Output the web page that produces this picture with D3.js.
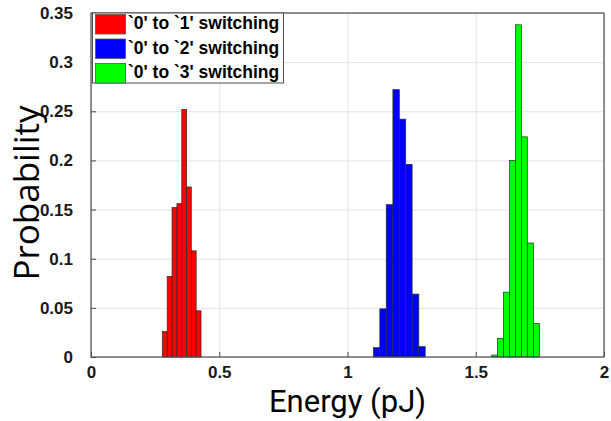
<!DOCTYPE html>
<html>
<head>
<meta charset="utf-8">
<script src="https://cdn.jsdelivr.net/npm/d3@7"></script>
<style>
  html, body { margin: 0; padding: 0; background: #fff; }
  svg { display: block; }
</style>
</head>
<body>
<svg id="chart" width="611" height="421"></svg>
<script>
// Histogram bin edges (pJ) and per-bin probabilities for each switching transition
const seriesNames = ["`0' to `1' switching", "`0' to `2' switching", "`0' to `3' switching"];
const seriesColors = ["#ff0000", "#0000ff", "#00ff00"];

const edges01 = [0.278, 0.297, 0.316, 0.335, 0.354, 0.373, 0.391, 0.410, 0.429];
const prob01  = [0.026, 0.082, 0.152, 0.156, 0.252, 0.173, 0.108, 0.047];

const edges02 = [1.101, 1.126, 1.151, 1.177, 1.202, 1.227, 1.252, 1.278, 1.303];
const prob02  = [0.0095, 0.049, 0.155, 0.272, 0.242, 0.196, 0.064, 0.0105];

const edges03 = [1.562, 1.585, 1.608, 1.632, 1.655, 1.678, 1.701, 1.725, 1.748];
const prob03  = [0.002, 0.019, 0.066, 0.200, 0.338, 0.224, 0.116, 0.034];

const xTicks = [0, 0.5, 1, 1.5, 2];
const xTickLabels = ["0", "0.5", "1", "1.5", "2"];
const yTicks = [0, 0.05, 0.1, 0.15, 0.2, 0.25, 0.3, 0.35];
const yTickLabels = ["0", "0.05", "0.1", "0.15", "0.2", "0.25", "0.3", "0.35"];

const xLabel = "Energy (pJ)";
const yLabel = "Probability";

const allEdges = [edges01, edges02, edges03];
const allProbs = [prob01, prob02, prob03];

const margin = { left: 91, right: 7, top: 13, bottom: 64 };
const W = 611, H = 421;
const pw = W - margin.left - margin.right;
const ph = H - margin.top - margin.bottom;

const svg = d3.select("#chart");
const g = svg.append("g").attr("transform", `translate(${margin.left},${margin.top})`);

const x = d3.scaleLinear().domain([0, 2]).range([0, pw]);
const y = d3.scaleLinear().domain([0, 0.35]).range([ph, 0]);

// grid
g.append("g")
  .attr("class", "grid-x")
  .call(d3.axisBottom(x).tickValues(xTicks).tickSize(-ph).tickFormat(""))
  .attr("transform", `translate(0,${ph})`)
  .call(s => s.select(".domain").remove())
  .call(s => s.selectAll("line").attr("stroke", "#e3e3e3").attr("stroke-width", 1));

g.append("g")
  .attr("class", "grid-y")
  .call(d3.axisLeft(y).tickValues(yTicks).tickSize(-pw).tickFormat(""))
  .call(s => s.select(".domain").remove())
  .call(s => s.selectAll("line").attr("stroke", "#e3e3e3").attr("stroke-width", 1));

// bars
allEdges.forEach((edges, si) => {
  const bins = allProbs[si].map((p, i) => ({ x0: edges[i], x1: edges[i + 1], p }));
  g.append("g")
    .selectAll("rect")
    .data(bins)
    .join("rect")
    .attr("x", d => x(d.x0))
    .attr("width", d => x(d.x1) - x(d.x0))
    .attr("y", d => y(d.p))
    .attr("height", d => y(0) - y(d.p))
    .attr("fill", seriesColors[si])
    .attr("stroke", "#2a2a2a")
    .attr("stroke-width", 0.7);
});

// axes
const tickFont = "'Liberation Sans', Arial, sans-serif";

const xAxis = g.append("g")
  .attr("transform", `translate(0,${ph})`)
  .call(d3.axisBottom(x).tickValues(xTicks).tickFormat((d, i) => xTickLabels[i]).tickSize(-5).tickPadding(9));
xAxis.select(".domain").remove();
xAxis.selectAll("line").attr("stroke", "#4d4d4d");
xAxis.selectAll("text")
  .attr("fill", "#1a1a1a")
  .style("font-family", tickFont)
  .style("font-weight", "bold")
  .style("font-size", "17px");

const yAxis = g.append("g")
  .call(d3.axisLeft(y).tickValues(yTicks).tickFormat((d, i) => yTickLabels[i]).tickSize(-5).tickPadding(18));
yAxis.select(".domain").remove();
yAxis.selectAll("line").attr("stroke", "#4d4d4d");
yAxis.selectAll("text")
  .attr("fill", "#1a1a1a")
  .style("font-family", tickFont)
  .style("font-weight", "bold")
  .style("font-size", "17px");

// frame
g.append("rect")
  .attr("x", 0).attr("y", 0)
  .attr("width", pw).attr("height", ph)
  .attr("fill", "none")
  .attr("stroke", "#4d4d4d")
  .attr("stroke-width", 1.2);

// axis titles
svg.append("text")
  .attr("x", margin.left + pw / 2)
  .attr("y", 412)
  .attr("text-anchor", "middle")
  .style("font-family", "Roboto, sans-serif")
  .style("font-size", "31px")
  .attr("fill", "#000")
  .text(xLabel);

svg.append("text")
  .attr("transform", `translate(39,${margin.top + ph / 2 + 8}) rotate(-90)`)
  .attr("text-anchor", "middle")
  .style("font-family", "'Open Sans', sans-serif")
  .style("font-size", "35px")
  .attr("fill", "#000")
  .text(yLabel);

// legend
const legend = svg.append("g").attr("transform", "translate(92.5,13)");
legend.append("rect")
  .attr("x", 0).attr("y", 0)
  .attr("width", 191).attr("height", 70)
  .attr("fill", "#fff")
  .attr("stroke", "#4d4d4d")
  .attr("stroke-width", 1);

seriesNames.forEach((name, i) => {
  const row = legend.append("g").attr("transform", `translate(0,${i * 24.5})`);
  row.append("rect")
    .attr("x", 3).attr("y", 1.5)
    .attr("width", 30).attr("height", 19.5)
    .attr("fill", seriesColors[i])
    .attr("stroke", "#555")
    .attr("stroke-width", 0.8);
  row.append("text")
    .attr("x", 35.5).attr("y", 16)
    .style("font-family", tickFont)
    .style("font-weight", "bold")
    .style("font-size", "17.5px")
    .attr("fill", "#000")
    .text(name);
});
</script>
</body>
</html>
